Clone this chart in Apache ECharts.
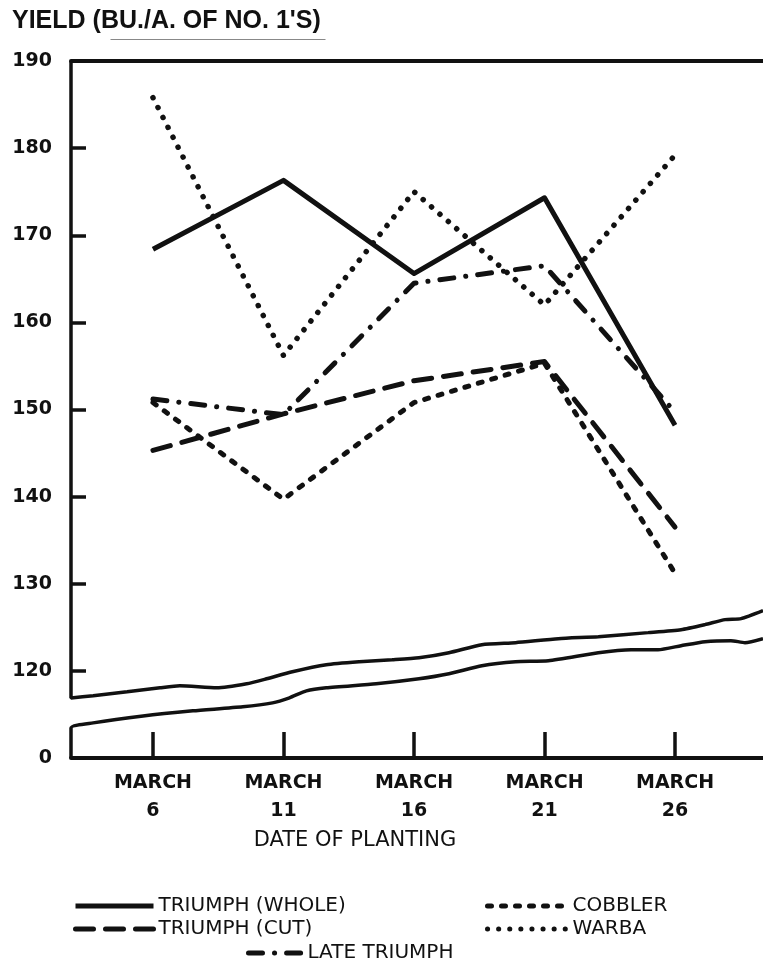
<!DOCTYPE html>
<html>
<head>
<meta charset="utf-8">
<script src="https://cdn.jsdelivr.net/npm/echarts@6/dist/echarts.min.js"></script>
<style>
html,body{margin:0;padding:0;background:#fff;}
#chart{width:763px;height:967px;}
</style>
</head>
<body>
<div id="chart"></div>
<script>
// ---- data ----
const plantingDays = [6, 11, 16, 21, 26];           // March planting dates
const triumphWhole = [168.4, 176.3, 165.6, 174.3, 148.2];
const triumphCut   = [145.3, 149.5, 153.3, 155.5, 136.5];
const cobbler      = [150.8, 139.7, 150.8, 155.3, 131.2];
const warba        = [185.8, 156.2, 175.0, 162.0, 179.2];
const lateTriumph  = [151.2, 149.4, 164.5, 166.5, 149.7];
const yTicks = [110, 120, 130, 140, 150, 160, 170, 180, 190]; // 110 is shown as the broken-axis "0"

// broken-axis wavy lines ([day, value] pairs), including the left axis segments
const breakUpper = [[2.86,190],[2.86,116.9],[3.71,117.14],[5.01,117.6],[6.27,118.06],[7.03,118.29],[8.44,118.06],[9.59,118.52],[10.35,119.09],[11.34,119.9],[12.64,120.71],[13.9,121.05],[15.16,121.28],[16.19,121.51],[17.34,122.09],[18.6,123.01],[19.89,123.24],[21.53,123.7],[23.06,123.93],[24.97,124.39],[26.23,124.73],[27.15,125.31],[27.92,125.88],[28.53,126.0],[29.37,126.92]];
const breakLower = [[2.86,110],[2.86,113.45],[3.71,114.03],[5.62,114.83],[7.53,115.41],[9.44,115.87],[10.58,116.33],[11.23,116.91],[11.88,117.71],[12.64,118.06],[14.55,118.52],[16.19,119.09],[17.34,119.67],[18.6,120.59],[19.89,121.05],[21.15,121.17],[23.06,122.09],[24.32,122.43],[25.35,122.43],[26.23,122.89],[27.15,123.35],[28.14,123.47],[28.68,123.24],[29.37,123.7]];

const INK = '#111';
const xMin = 2.86, xMax = 29.37;
const pair = arr => plantingDays.map((d, i) => [d, arr[i]]);

function lineSeries(name, arr, type, width, cap) {
  return {
    name: name, type: 'line', data: pair(arr),
    symbol: 'none', showSymbol: false, silent: true, z: 3,
    lineStyle: { color: INK, width: width, type: type, cap: cap || 'butt', join: 'round' },
    itemStyle: { color: INK }
  };
}

const legendCommon = {
  orient: 'vertical', itemHeight: 20, itemGap: 3, padding: 0,
  itemStyle: { opacity: 0 },
  lineStyle: { width: 5 },
  textStyle: { fontFamily: 'DejaVu Sans', fontSize: 20, color: INK }
};

const chart = echarts.init(document.getElementById('chart'), null, { renderer: 'canvas' });
chart.setOption({
  backgroundColor: '#fff',
  animation: false,
  title: {
    text: "YIELD (BU./A. OF NO. 1'S)",
    left: 7, top: 4,
    textStyle: { fontFamily: 'Liberation Sans', fontWeight: 'bold', fontSize: 25, color: INK }
  },
  graphic: [{
    type: 'line', left: 108, top: 37, silent: true,
    shape: { x1: 0, y1: 0, x2: 215, y2: 0 },
    style: { stroke: '#888', lineWidth: 1 }
  }],
  grid: { left: 71, right: 0, top: 61, bottom: 209, containLabel: false },
  xAxis: [{
    type: 'value', min: xMin, max: xMax, position: 'bottom',
    axisLine: { show: true, lineStyle: { color: INK, width: 4 } },
    axisTick: { show: true, inside: true, length: 26, customValues: plantingDays, lineStyle: { color: INK, width: 3.5 } },
    axisLabel: {
      show: true, customValues: plantingDays, margin: 11,
      formatter: v => 'MARCH\n' + v,
      fontFamily: 'DejaVu Sans', fontWeight: 'bold', fontSize: 19, lineHeight: 28, color: INK
    },
    splitLine: { show: false },
    name: 'DATE OF PLANTING', nameLocation: 'middle', nameGap: 72,
    nameTextStyle: { fontFamily: 'DejaVu Sans', fontSize: 21, color: INK, padding: [0, 124, 0, 0] }
  }, {
    type: 'value', min: xMin, max: xMax, position: 'top',
    axisLine: { show: true, lineStyle: { color: INK, width: 4 } },
    axisTick: { show: false }, axisLabel: { show: false }, splitLine: { show: false }
  }],
  yAxis: {
    type: 'value', min: 110, max: 190, interval: 10,
    axisLine: { show: false },
    axisTick: { show: true, inside: true, length: 15, lineStyle: { color: INK, width: 3.5 } },
    axisLabel: {
      margin: 19, padding: [0, 0, 9, 0],
      formatter: v => (v === 110 ? '0' : String(v)),
      fontFamily: 'DejaVu Sans', fontWeight: 'bold', fontSize: 19, color: INK
    },
    splitLine: { show: false }
  },
  legend: [
    Object.assign({}, legendCommon, { left: 73, top: 896, itemWidth: 78, data: ['TRIUMPH (WHOLE)', 'TRIUMPH (CUT)'] }),
    Object.assign({}, legendCommon, { left: 485, top: 896, itemWidth: 80, data: ['COBBLER', 'WARBA'] }),
    Object.assign({}, legendCommon, { left: 246, top: 943, itemWidth: 54, data: ['LATE TRIUMPH'] })
  ],
  series: [
    lineSeries('TRIUMPH (WHOLE)', triumphWhole, 'solid', 5),
    lineSeries('TRIUMPH (CUT)', triumphCut, [18, 12], 5, 'round'),
    lineSeries('COBBLER', cobbler, [4, 10], 5, 'round'),
    lineSeries('WARBA', warba, [0.1, 11], 5.5, 'round'),
    lineSeries('LATE TRIUMPH', lateTriumph, [14, 12, 0.1, 12], 5, 'round'),
    { name: 'break-upper', type: 'line', data: breakUpper, symbol: 'none', silent: true, smooth: 0.2, z: 2,
      lineStyle: { color: INK, width: 3.5 } },
    { name: 'break-lower', type: 'line', data: breakLower, symbol: 'none', silent: true, smooth: 0.2, z: 2,
      lineStyle: { color: INK, width: 3.5 } }
  ]
});
</script>
</body>
</html>
